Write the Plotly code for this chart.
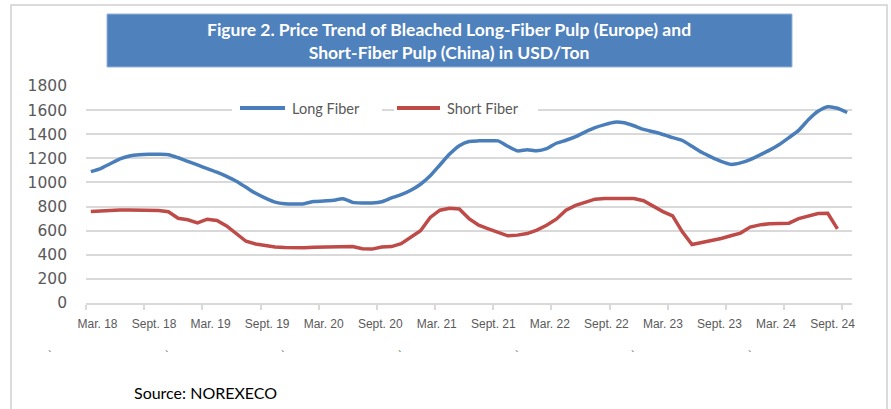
import plotly.graph_objects as go

# monthly prices, Mar 2018 .. Sept 2024 (USD/ton)
long_fiber = [1090, 1115, 1155, 1195, 1220, 1230, 1233, 1233, 1230, 1205,
              1175, 1145, 1115, 1085, 1050, 1010, 960, 910, 870, 837,
              823, 821, 824, 842, 846, 852, 865, 835, 830, 830,
              840, 872, 898, 935, 985, 1055, 1145, 1235, 1305, 1340,
              1345, 1345, 1345, 1300, 1262, 1272, 1262, 1280, 1325, 1350,
              1380, 1420, 1455, 1480, 1500, 1495, 1470, 1440, 1420, 1398,
              1372, 1348, 1300, 1250, 1210, 1175, 1150, 1162, 1190, 1228,
              1268, 1315, 1372, 1432, 1520, 1590, 1628, 1615, 1580]
short_fiber = [760, 765, 770, 771, 772, 772, 772, 768, 757, 703,
               690, 665, 695, 684, 640, 572, 512, 490, 475, 465,
               460, 457, 458, 462, 463, 465, 472, 468, 450, 447,
               465, 468, 492, 545, 600, 710, 770, 785, 780, 700,
               645, 615, 585, 557, 563, 576, 605, 645, 695, 770,
               810, 838, 861, 866, 866, 866, 866, 848, 800, 758,
               722, 590, 485, 500, 517, 535, 558, 580, 630, 648,
               658, 660, 662, 700, 722, 742, 744, 615, None]
tick_labels = ["Mar. 18", "Sept. 18", "Mar. 19", "Sept. 19", "Mar. 20", "Sept. 20", "Mar. 21",
               "Sept. 21", "Mar. 22", "Sept. 22", "Mar. 23", "Sept. 23", "Mar. 24", "Sept. 24"]

months = list(range(len(long_fiber)))
BLUE = "#4A7EBB"
RED = "#BE4B48"
GRID = "#D9D9D9"
TXT = "#595959"

W, H = 891, 409
L, R, T, B = 86, 39, 86, 106
PW, PH = W - L - R, H - T - B


def px(x):
    return (x - L) / PW


def py(y):
    return (H - B - y) / PH


fig = go.Figure()
fig.add_trace(go.Scatter(x=months, y=long_fiber, mode="lines", name="Long Fiber",
                         line=dict(color=BLUE, width=3.5, shape="spline", smoothing=0.6),
                         xaxis="x", showlegend=False))
fig.add_trace(go.Scatter(x=months, y=short_fiber, mode="lines", name="Short Fiber",
                         line=dict(color=RED, width=3.5),
                         xaxis="x2", showlegend=False))

xr = [-0.5, len(months) - 0.5]
bounds = [-0.5 + 6 * k for k in range(len(tick_labels))]
label_pos = [0.69 + 5.831 * k for k in range(len(tick_labels))]

shapes = [
    # outer frame
    dict(type="rect", xref="paper", yref="paper", x0=px(11), x1=px(887), y0=py(440), y1=py(5),
         line=dict(color="#D0D0D0", width=1.5), layer="below"),
    # title box
    dict(type="rect", xref="paper", yref="paper", x0=px(107), x1=px(792), y0=py(67), y1=py(14),
         fillcolor="#4F81BD", line=dict(color="#95B3D7", width=1)),
    # legend backgrounds
    dict(type="rect", xref="paper", yref="paper", x0=px(232), x1=px(382), y0=py(117), y1=py(99),
         fillcolor="white", line=dict(width=0), layer="above"),
    dict(type="rect", xref="paper", yref="paper", x0=px(394), x1=px(538), y0=py(117), y1=py(99),
         fillcolor="white", line=dict(width=0), layer="above"),
    dict(type="line", xref="paper", yref="paper", x0=px(240), x1=px(285), y0=py(108), y1=py(108),
         line=dict(color=BLUE, width=4), layer="above"),
    dict(type="line", xref="paper", yref="paper", x0=px(397), x1=px(440), y0=py(108), y1=py(108),
         line=dict(color=RED, width=4), layer="above"),
]

annotations = [
    dict(text="<b>Figure 2. Price Trend of Bleached Long-Fiber Pulp (Europe) and</b><br>"
              "<b>Short-Fiber Pulp (China) in USD/Ton</b>",
         xref="paper", yref="paper", x=px(449), y=py(41), xanchor="center", yanchor="middle",
         showarrow=False, font=dict(family="Lato", size=17.5, color="white"), align="center"),
    dict(text="Long Fiber", xref="paper", yref="paper", x=px(290), y=py(108),
         xanchor="left", yanchor="middle",
         showarrow=False, font=dict(family="Lato", size=14.5, color=TXT)),
    dict(text="Short Fiber", xref="paper", yref="paper", x=px(445), y=py(108),
         xanchor="left", yanchor="middle",
         showarrow=False, font=dict(family="Lato", size=14.5, color=TXT)),
    dict(text="Source: NOREXECO", xref="paper", yref="paper", x=px(132), y=py(392),
         xanchor="left", yanchor="middle",
         showarrow=False, font=dict(family="Lato", size=16, color="black")),
]
for bx in [50, 167, 283, 400, 517, 633, 750]:
    annotations.append(dict(text="`", xref="paper", yref="paper", x=px(bx), y=py(355),
                            xanchor="center", yanchor="middle", showarrow=False,
                            font=dict(family="Liberation Sans", size=11, color="#444")))

fig.update_layout(
    width=W, height=H,
    margin=dict(l=L, r=R, t=T, b=B),
    paper_bgcolor="white", plot_bgcolor="white",
    xaxis=dict(range=xr, tickmode="array", tickvals=bounds, showticklabels=False,
               ticks="outside", ticklen=5, tickcolor=GRID, tickwidth=1.5,
               showline=True, linecolor=GRID, linewidth=1.5, showgrid=False, zeroline=False),
    xaxis2=dict(range=xr, overlaying="x", anchor="y", side="bottom",
                tickmode="array", tickvals=label_pos, ticktext=tick_labels, ticks="",
                showline=False, showgrid=False, zeroline=False, ticklabelstandoff=12,
                tickfont=dict(family="Liberation Sans", size=12, color=TXT)),
    yaxis=dict(range=[0, 1800], dtick=200, showgrid=True, gridcolor=GRID, gridwidth=1.5,
               zeroline=False, showline=False, ticks="", ticklabelstandoff=18,
               tickfont=dict(family="DejaVu Sans", size=15.5, color=TXT)),
    shapes=shapes,
    annotations=annotations,
    showlegend=False,
)

# drop the default page margin so the chart sits at the window origin
fig.write_html("out.html", config={"displayModeBar": False},
               post_script="document.body.style.margin='0';")
